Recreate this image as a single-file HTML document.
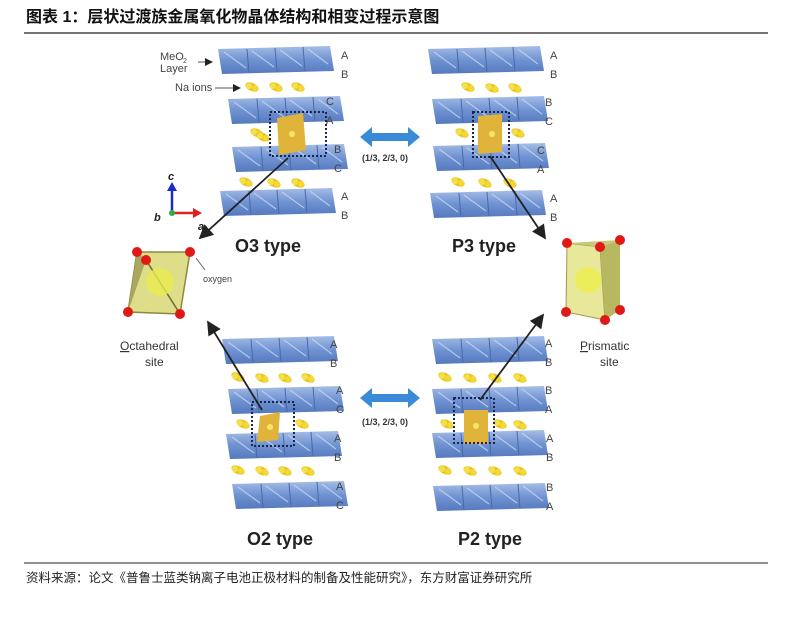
<!DOCTYPE html>
<html><head><meta charset="utf-8"><style>
body{margin:0;background:#fff;width:792px;height:630px;overflow:hidden;font-family:"Liberation Sans","Noto Sans CJK SC",sans-serif}
</style></head><body>
<svg width="792" height="630" xmlns="http://www.w3.org/2000/svg" font-family="Liberation Sans, Noto Sans CJK SC, sans-serif">
<defs>
<linearGradient id="bg" x1="0" y1="0" x2="0" y2="1"><stop offset="0" stop-color="#a6bde6"/><stop offset="0.5" stop-color="#6f92d2"/><stop offset="1" stop-color="#5479bd"/></linearGradient>
<g id="slab">
<polygon points="0,3 112,0 116,25 4,28" fill="url(#bg)"/>
<g stroke="#c8d6f0" stroke-width="1.2" opacity="0.8">
<line x1="6" y1="6" x2="28" y2="22"/><line x1="34" y1="5" x2="56" y2="21"/><line x1="62" y1="4" x2="84" y2="20"/><line x1="90" y1="3" x2="110" y2="18"/>
</g>
<g stroke="#4a6aa8" stroke-width="1"><line x1="29" y1="3" x2="31" y2="27"/><line x1="57" y1="2" x2="59" y2="26"/><line x1="85" y1="1" x2="87" y2="25"/></g>
</g>
<g id="na"><ellipse cx="0" cy="0" rx="7" ry="4" fill="#e8c51c" transform="rotate(25)"/><circle cx="-3" cy="-1" r="3" fill="#f6e04a"/><circle cx="3" cy="1" r="3" fill="#f3d838"/></g>
<marker id="ah" markerWidth="8" markerHeight="8" refX="7" refY="4" orient="auto"><path d="M0,0 L8,4 L0,8 Z" fill="#222"/></marker>
</defs>
<text x="26" y="22" font-size="16" font-weight="bold" fill="#111">图表 1：层状过渡族金属氧化物晶体结构和相变过程示意图</text>
<line x1="24" y1="33" x2="768" y2="33" stroke="#222" stroke-width="1.3"/>
<line x1="24" y1="563" x2="768" y2="563" stroke="#222" stroke-width="1"/>
<text x="26" y="582" font-size="12.5" fill="#222">资料来源：论文《普鲁士蓝类钠离子电池正极材料的制备及性能研究》，东方财富证券研究所</text>

<!-- O3 -->
<use href="#slab" x="218" y="46"/><use href="#slab" x="228" y="96"/><use href="#slab" x="232" y="144"/><use href="#slab" x="220" y="188"/>
<use href="#na" x="252" y="87"/><use href="#na" x="276" y="87"/><use href="#na" x="298" y="87"/>
<use href="#na" x="257" y="133"/><use href="#na" x="263" y="137"/>
<use href="#na" x="246" y="182"/><use href="#na" x="274" y="183"/><use href="#na" x="298" y="183"/>
<polygon points="277,118 303,113 306,150 279,155" fill="#e0b43a"/><circle cx="292" cy="134" r="3" fill="#f8e860"/>
<rect x="270" y="112" width="56" height="44" fill="none" stroke="#1a2550" stroke-width="2" stroke-dasharray="2,2"/>
<g font-size="11" fill="#444">
<text x="160" y="60">MeO</text><text x="183" y="63" font-size="7">2</text><text x="160" y="72">Layer</text>
<text x="175" y="91">Na ions</text>
<text x="341" y="59">A</text><text x="341" y="78">B</text><text x="326" y="105">C</text><text x="326" y="124">A</text>
<text x="334" y="153">B</text><text x="334" y="172">C</text><text x="341" y="200">A</text><text x="341" y="219">B</text>
</g>
<line x1="198" y1="62" x2="212" y2="62" stroke="#555" marker-end="url(#ah)"/>
<line x1="215" y1="88" x2="240" y2="88" stroke="#555" marker-end="url(#ah)"/>
<line x1="288" y1="158" x2="200" y2="238" stroke="#222" stroke-width="1.8" marker-end="url(#ah)"/>
<text x="235" y="252" font-size="18" font-weight="bold" fill="#222">O3 type</text>

<!-- axes -->
<line x1="172" y1="213" x2="172" y2="190" stroke="#1a2ad0" stroke-width="2.5"/><path d="M167,191 L172,182 L177,191Z" fill="#1a2ad0"/>
<line x1="172" y1="213" x2="194" y2="213" stroke="#e02020" stroke-width="2.5"/><path d="M193,208 L202,213 L193,218Z" fill="#e02020"/>
<circle cx="172" cy="213" r="3" fill="#2ab040"/>
<g font-size="11" font-weight="bold" font-style="italic" fill="#222"><text x="168" y="180">c</text><text x="154" y="221">b</text><text x="198" y="230">a</text></g>

<!-- P3 -->
<use href="#slab" x="428" y="46"/><use href="#slab" x="432" y="96"/><use href="#slab" x="433" y="143"/><use href="#slab" x="430" y="190"/>
<use href="#na" x="468" y="87"/><use href="#na" x="492" y="88"/><use href="#na" x="515" y="88"/>
<use href="#na" x="462" y="133"/><use href="#na" x="518" y="133"/>
<use href="#na" x="458" y="182"/><use href="#na" x="485" y="183"/><use href="#na" x="510" y="183"/>
<polygon points="478,116 502,114 502,152 478,154" fill="#e0b43a"/><circle cx="492" cy="134" r="3" fill="#f8e860"/>
<rect x="473" y="112" width="36" height="45" fill="none" stroke="#1a2550" stroke-width="2" stroke-dasharray="2,2"/>
<g font-size="11" fill="#444">
<text x="550" y="59">A</text><text x="550" y="78">B</text><text x="545" y="106">B</text><text x="545" y="125">C</text>
<text x="537" y="154">C</text><text x="537" y="173">A</text><text x="550" y="202">A</text><text x="550" y="221">B</text>
</g>
<line x1="490" y1="156" x2="545" y2="238" stroke="#222" stroke-width="1.8" marker-end="url(#ah)"/>
<text x="452" y="252" font-size="18" font-weight="bold" fill="#222">P3 type</text>

<!-- blue arrows -->
<g fill="#3a8ad8">
<path d="M360,137 L372,127 L372,133 L408,133 L408,127 L420,137 L408,147 L408,141 L372,141 L372,147Z"/>
<path d="M360,398 L372,388 L372,394 L408,394 L408,388 L420,398 L408,408 L408,402 L372,402 L372,408Z"/>
</g>
<g font-size="9" font-weight="bold" fill="#333"><text x="362" y="161">(1/3, 2/3, 0)</text><text x="362" y="425">(1/3, 2/3, 0)</text></g>

<!-- octahedron -->
<polygon points="137,252 190,252 180,314 128,312" fill="#dede8a" stroke="#8a8a40" stroke-width="1.5"/>
<polygon points="137,252 146,260 128,312" fill="#a8a860"/>
<line x1="146" y1="260" x2="180" y2="314" stroke="#6a6a30" stroke-width="1.5"/>
<circle cx="160" cy="282" r="14" fill="#eaea50" opacity="0.8"/>
<g fill="#e01818"><circle cx="137" cy="252" r="5"/><circle cx="146" cy="260" r="5"/><circle cx="190" cy="252" r="5"/><circle cx="128" cy="312" r="5"/><circle cx="180" cy="314" r="5"/></g>
<line x1="196" y1="258" x2="205" y2="270" stroke="#666"/>
<text x="203" y="282" font-size="9" fill="#444">oxygen</text>
<text x="120" y="350" font-size="12" fill="#333"><tspan text-decoration="underline">O</tspan>ctahedral</text>
<text x="145" y="366" font-size="12" fill="#333">site</text>

<!-- prism -->
<polygon points="567,243 600,247 605,320 566,312" fill="#e8e89a" stroke="#9a9a50"/>
<polygon points="600,247 620,240 620,310 605,320" fill="#b8b860"/>
<polygon points="567,243 620,240 600,247" fill="#c8c878"/>
<circle cx="588" cy="280" r="13" fill="#eded50" opacity="0.85"/>
<g fill="#e01818"><circle cx="567" cy="243" r="5"/><circle cx="600" cy="247" r="5"/><circle cx="620" cy="240" r="5"/><circle cx="566" cy="312" r="5"/><circle cx="605" cy="320" r="5"/><circle cx="620" cy="310" r="5"/></g>
<text x="580" y="350" font-size="12" fill="#333"><tspan text-decoration="underline">P</tspan>rismatic</text>
<text x="600" y="366" font-size="12" fill="#333">site</text>

<!-- O2 -->
<use href="#slab" x="222" y="336"/><use href="#slab" x="228" y="386"/><use href="#slab" x="226" y="431"/><use href="#slab" x="232" y="481"/>
<use href="#na" x="238" y="377"/><use href="#na" x="262" y="378"/><use href="#na" x="285" y="378"/><use href="#na" x="308" y="378"/>
<use href="#na" x="243" y="424"/><use href="#na" x="302" y="424"/>
<use href="#na" x="238" y="470"/><use href="#na" x="262" y="471"/><use href="#na" x="285" y="471"/><use href="#na" x="308" y="471"/>
<polygon points="260,416 280,412 278,440 257,442" fill="#e0b43a"/><circle cx="270" cy="427" r="3" fill="#f8e860"/>
<rect x="252" y="402" width="42" height="44" fill="none" stroke="#1a2550" stroke-width="2" stroke-dasharray="2,2"/>
<g font-size="11" fill="#444">
<text x="330" y="348">A</text><text x="330" y="367">B</text><text x="336" y="394">A</text><text x="336" y="413">C</text>
<text x="334" y="442">A</text><text x="334" y="461">B</text><text x="336" y="490">A</text><text x="336" y="509">C</text>
</g>
<line x1="262" y1="410" x2="208" y2="322" stroke="#222" stroke-width="1.8" marker-end="url(#ah)"/>
<text x="247" y="545" font-size="18" font-weight="bold" fill="#222">O2 type</text>

<!-- P2 -->
<use href="#slab" x="432" y="336"/><use href="#slab" x="432" y="386"/><use href="#slab" x="432" y="430"/><use href="#slab" x="433" y="483"/>
<use href="#na" x="445" y="377"/><use href="#na" x="470" y="378"/><use href="#na" x="495" y="378"/><use href="#na" x="520" y="378"/>
<use href="#na" x="447" y="424"/><use href="#na" x="500" y="424"/><use href="#na" x="520" y="425"/>
<use href="#na" x="445" y="470"/><use href="#na" x="470" y="471"/><use href="#na" x="495" y="471"/><use href="#na" x="520" y="471"/>
<rect x="464" y="410" width="24" height="34" fill="#e0b43a"/><circle cx="476" cy="426" r="3" fill="#f8e860"/>
<rect x="454" y="398" width="40" height="45" fill="none" stroke="#1a2550" stroke-width="2" stroke-dasharray="2,2"/>
<g font-size="11" fill="#444">
<text x="545" y="347">A</text><text x="545" y="366">B</text><text x="545" y="394">B</text><text x="545" y="413">A</text>
<text x="546" y="442">A</text><text x="546" y="461">B</text><text x="546" y="491">B</text><text x="546" y="510">A</text>
</g>
<line x1="480" y1="400" x2="543" y2="315" stroke="#222" stroke-width="1.8" marker-end="url(#ah)"/>
<text x="458" y="545" font-size="18" font-weight="bold" fill="#222">P2 type</text>
</svg>
</body></html>
